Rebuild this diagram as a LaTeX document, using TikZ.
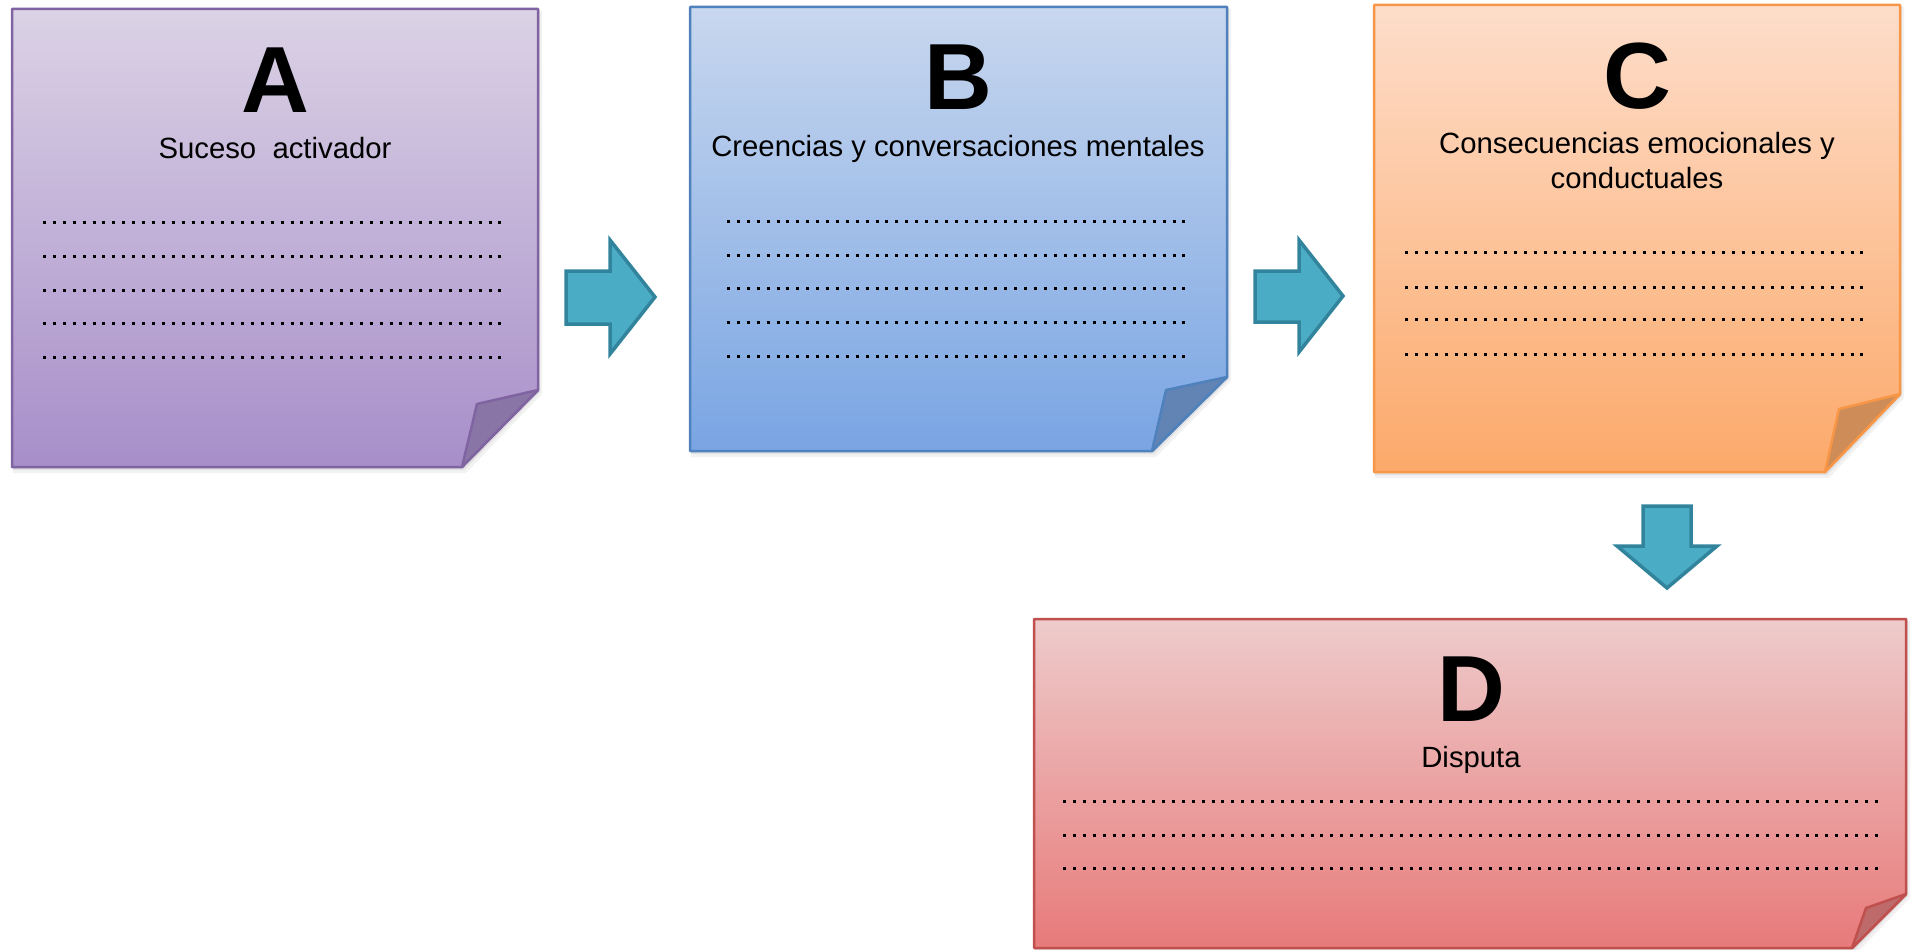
\documentclass[tikz,border=0pt]{standalone}
\usepackage{fontspec}
\setmainfont{Liberation Sans}
\definecolor{Atop}{HTML}{DBD2E5}
\definecolor{Abot}{HTML}{A78EC9}
\definecolor{Abd}{HTML}{8064A2}
\definecolor{Afd}{HTML}{8A76A6}
\definecolor{Btop}{HTML}{C8D7EE}
\definecolor{Bbot}{HTML}{79A5E3}
\definecolor{Bbd}{HTML}{4F81BD}
\definecolor{Bfd}{HTML}{6284B5}
\definecolor{Ctop}{HTML}{FDDDCA}
\definecolor{Cbot}{HTML}{FCA96A}
\definecolor{Cbd}{HTML}{F79646}
\definecolor{Cfd}{HTML}{CE8C58}
\definecolor{Dtop}{HTML}{EECBCB}
\definecolor{Dbot}{HTML}{E87A7A}
\definecolor{Dbd}{HTML}{C0504D}
\definecolor{Dfd}{HTML}{BE6A6A}
\definecolor{arrowfill}{HTML}{4BACC6}
\definecolor{arrowbd}{HTML}{31849B}
\tikzset{
  x=1pt, y=-1pt,
  bigletter/.style={font=\fontsize{94}{94}\selectfont\bfseries, inner sep=0pt, anchor=base},
  caption/.style={font=\fontsize{29.3}{35}\selectfont, inner sep=0pt, anchor=base},
  dotline/.style={line width=3pt, dash pattern=on 3pt off 6.9pt},
  blockarrow/.style={fill=arrowfill, draw=arrowbd, line width=3.5pt, line join=miter},
}
% #1 x1, #2 y1, #3 x2, #4 y2, #5 y fold start, #6 x fold bottom, #7 xi, #8 yi, #9 colour prefix
\newcommand\papernote[9]{%
  \fill[black,opacity=0.05] (#1+1,#2+2) -- (#3+4,#2+2) -- (#3+4,#5+4) -- (#6+4,#4+6) -- (#1+1,#4+6) -- cycle;
  \fill[black,opacity=0.07] (#1+1,#2+1) -- (#3+2,#2+1) -- (#3+2,#5+2) -- (#6+2,#4+3) -- (#1+1,#4+3) -- cycle;
  \shade[top color=#9top, bottom color=#9bot] (#1,#2) -- (#3,#2) -- (#3,#5) -- (#6,#4) -- (#1,#4) -- cycle;
  \draw[#9bd, line width=2.5pt, line join=round] (#1,#2) -- (#3,#2) -- (#3,#5) -- (#6,#4) -- (#1,#4) -- cycle;
  \filldraw[fill=#9fd, draw=#9bd, line width=2.5pt, line join=round] (#3,#5) -- (#7,#8) -- (#6,#4) -- cycle;
}
\begin{document}
\begin{tikzpicture}
\useasboundingbox (0,0) rectangle (1912,950);

% Paper notes
\papernote{12}{9}{538}{467}{390}{462}{477}{404}{A}
\papernote{690}{7}{1227}{451}{377}{1152}{1166}{390}{B}
\papernote{1374}{5}{1900}{472}{394}{1825}{1839}{409}{C}
\papernote{1034}{619}{1906}{948}{894}{1852}{1866}{908}{D}

% Box A
\node[bigletter] (A) at (275,112) {A};
\node[caption] (Atext) at (275,158) {Suceso~ activador};
\foreach \yy in {222,256,290,323,357} \draw[dotline] (43,\yy) -- (508,\yy);

% Box B
\node[bigletter] (B) at (958,109) {B};
\node[caption] (Btext) at (958,156) {Creencias y conversaciones mentales};
\foreach \yy in {221,255,288,322,356} \draw[dotline] (727,\yy) -- (1192,\yy);

% Box C
\node[bigletter] (C) at (1637,108) {C};
\node[caption] (Ctext1) at (1637,153) {Consecuencias emocionales y};
\node[caption] (Ctext2) at (1637,188) {conductuales};
\foreach \yy in {252,287,319,354} \draw[dotline] (1405,\yy) -- (1870,\yy);

% Box D
\node[bigletter] (D) at (1471,721) {D};
\node[caption] (Dtext) at (1471,767) {Disputa};
\foreach \yy in {801,835,868} \draw[dotline] (1063,\yy) -- (1880,\yy);

% Block arrows
\filldraw[blockarrow] (566,271) -- (610,271) -- (610,240) -- (655,297) -- (610,354) -- (610,324) -- (566,324) -- cycle;
\filldraw[blockarrow] (1255,271) -- (1299,271) -- (1299,240) -- (1343,296) -- (1299,352) -- (1299,322) -- (1255,322) -- cycle;
\filldraw[blockarrow] (1643,506) -- (1691,506) -- (1691,546) -- (1717,546) -- (1667,588) -- (1617,546) -- (1643,546) -- cycle;
\end{tikzpicture}
\end{document}
